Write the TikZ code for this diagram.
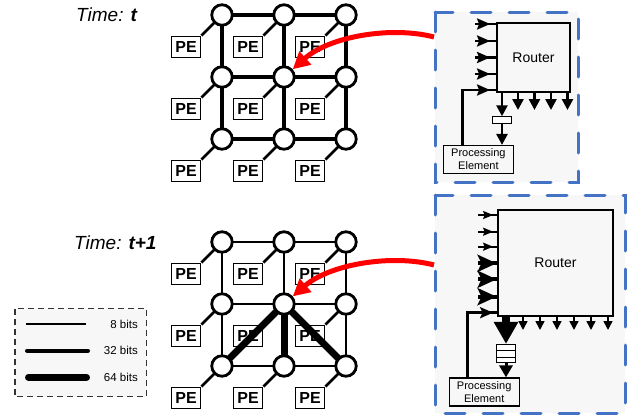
\documentclass[tikz,border=0pt]{standalone}
\usepackage{fontspec}
\setmainfont{Liberation Sans}
\usetikzlibrary{arrows.meta,decorations.markings,calc}
\definecolor{dashblue}{RGB}{68,114,196}
\definecolor{panelfill}{RGB}{247,247,247}
\definecolor{linkred}{RGB}{255,0,0}

\tikzset{
  routerdot/.style={circle,draw,line width=2.8pt,fill=white,minimum size=20.5pt,inner sep=0pt},
  pebox/.style={draw,line width=1.9pt,fill=white,minimum width=29pt,minimum height=21pt,inner sep=0pt,
    font=\fontsize{16}{16}\selectfont\bfseries},
  pelink/.style={line width=2.8pt},
  bits8/.style={line width=1.7pt},
  bits32/.style={line width=4pt},
  bits64/.style={line width=7pt},
  hotlink/.style={draw=linkred,line width=5pt,-{Triangle[length=17pt,width=17pt]}},
  timelabel/.style={anchor=west,inner sep=0pt,font=\fontsize{19}{19}\selectfont\itshape},
  panel/.style={draw=dashblue,line width=3pt,line cap=round,dash pattern=on 20pt off 18pt,fill=panelfill},
  routerbox/.style={draw,line width=1.8pt,fill=panelfill,inner sep=0pt,font=\fontsize{14}{14}\selectfont},
  procbox/.style={draw,line width=1.2pt,fill=panelfill,align=center,inner sep=0pt,font=\fontsize{11}{13}\selectfont},
  bufbox/.style={draw,line width=1pt,fill=white,inner sep=0pt},
  % input port: a line into the router with a barbed head placed near its end
  headat/.style n args={5}{line width=#4,postaction={decorate},
    decoration={markings,mark=at position #1 with {\arrow{Stealth[length=#2,width=#3,inset=#5]}}}},
  legendtext/.style={anchor=east,inner sep=0pt,font=\fontsize{11.5}{11.5}\selectfont},
}

\begin{document}
\begin{tikzpicture}[x=1pt,y=-1pt]
\useasboundingbox (0,0) rectangle (630,415);

% ---------------- mesh at time t ----------------
\node[timelabel] (timeA) at (76,15) {Time: \textbf{t}};
\foreach \c/\x in {1/222,2/284,3/346}
  \foreach \r/\y in {1/15,2/77,3/139} {
    \coordinate (a\c\r) at (\x,\y);
    \coordinate (b\c\r) at (\x,\y+227);
  }
\foreach \k in {1,2,3} {
  \draw[bits32] (a1\k) -- (a2\k) -- (a3\k);
  \draw[bits32] (a\k1) -- (a\k2) -- (a\k3);
}
\foreach \c in {1,2,3}
  \foreach \r in {1,2,3} {
    \node[pebox] (pa\c\r) at ($(a\c\r)+(-36,32)$) {PE};
    \draw[pelink] (a\c\r) -- (pa\c\r.north east);
  }
\foreach \c in {1,2,3}
  \foreach \r in {1,2,3}
    \node[routerdot] (A\c\r) at (a\c\r) {};

% ---------------- mesh at time t+1 ----------------
\node[timelabel] (timeB) at (74,243) {Time: \textbf{t+1}};
\foreach \k in {1,2,3} {
  \draw[bits8] (b1\k) -- (b2\k) -- (b3\k);
  \draw[bits8] (b\k1) -- (b\k2) -- (b\k3);
}
\foreach \c in {1,2,3}
  \foreach \r in {1,2,3} {
    \node[pebox] (pb\c\r) at ($(b\c\r)+(-36,32)$) {PE};
    \draw[pelink] (b\c\r) -- (pb\c\r.north east);
  }
\draw[bits64] (b22) -- (b13);
\draw[bits64] (b22) -- (b23);
\draw[bits64] (b22) -- (b33);
\foreach \c in {1,2,3}
  \foreach \r in {1,2,3}
    \node[routerdot] (B\c\r) at (b\c\r) {};

% ---------------- legend ----------------
\draw[draw=black!80,line width=1.2pt,dash pattern=on 6pt off 4pt,fill=panelfill]
  (15,308.5) rectangle (146.5,396.5);
\draw[bits8] (26,324) -- (86,324);
\draw[bits32,line cap=round] (27,350.7) -- (88,350.7);
\draw[bits64,line cap=round] (28.5,377.3) -- (86.5,377.3);
\node[legendtext] (l8)  at (138,324)   {8 bits};
\node[legendtext] (l32) at (138,350.7) {32 bits};
\node[legendtext] (l64) at (138,377.3) {64 bits};

% ---------------- router detail, time t ----------------
\draw[panel] (435,12) rectangle (578,182);
\node[routerbox,minimum width=73pt,minimum height=69pt] (rtA) at (533.5,57.5) {Router};
\node[procbox,minimum width=70pt,minimum height=28pt] (peA) at (478.4,159.5) {Processing\\Element};
\node[bufbox,minimum width=19pt,minimum height=6.5pt] (bfA) at (502,120) {};
\foreach \k/\y in {1/24,2/41,3/57.5,4/74} {
  \coordinate (inA\k) at (475,\y);
  \draw[headat={-6pt}{13pt}{11pt}{2.6pt}{2pt}] (inA\k) -- (inA\k -| rtA.west);
}
\coordinate (inA5) at (475,90);
\coordinate (fbA) at ($(peA.north west)+(19.5,0)$);
\draw[headat={-6pt}{13pt}{11pt}{2.6pt}{2pt}] (fbA) |- (inA5 -| rtA.west);
\foreach \k/\x in {1/518,2/534.5,3/551,4/567.5} {
  \coordinate (outA\k) at (\x,110);
  \draw[line width=2.6pt,-{Triangle[length=11pt,width=11pt]}] (outA\k |- rtA.south) -- (outA\k);
}
\draw[line width=2.6pt,-{Triangle[length=11pt,width=11pt]}] (bfA.north |- rtA.south) -- (bfA.north);
\draw[line width=2.6pt,-{Triangle[length=11pt,width=11pt]}] (bfA.south) -- (bfA.south |- peA.north);

% ---------------- router detail, time t+1 ----------------
\draw[panel] (435,195) rectangle (625,413);
\node[routerbox,minimum width=115pt,minimum height=106pt] (rtB) at (555.5,263) {Router};
\node[procbox,minimum width=70pt,minimum height=28pt] (peB) at (484.2,392) {Processing\\Element};
\node[bufbox,minimum width=19.5pt,minimum height=18.5pt] (bfB) at (506,353.7) {};
\draw[line width=0.9pt] ($(bfB.north west)!1/3!(bfB.south west)$) -- ($(bfB.north east)!1/3!(bfB.south east)$);
\draw[line width=0.9pt] ($(bfB.north west)!2/3!(bfB.south west)$) -- ($(bfB.north east)!2/3!(bfB.south east)$);
\foreach \k/\y in {1/215,2/231.7,3/246.7} {
  \coordinate (inB\k) at (478,\y);
  \draw[headat={-4pt}{10pt}{8pt}{1.8pt}{1.5pt}] (inB\k) -- (inB\k -| rtB.west);
}
\foreach \k/\y in {4/263.3,5/279.3,6/296.7} {
  \coordinate (inB\k) at (478,\y);
  \draw[headat={-0.5pt}{19pt}{17pt}{4pt}{4pt}] (inB\k) -- (inB\k -| rtB.west);
}
\coordinate (inB7) at (478,312.7);
\coordinate (fbB) at ($(peB.north west)+(19,0)$);
\draw[headat={-4pt}{13pt}{11pt}{3pt}{2.5pt}] (fbB) |- (inB7 -| rtB.west);
\foreach \k/\x in {1/523,2/540,3/557,4/574,5/591,6/608} {
  \coordinate (outB\k) at (\x,330);
  \draw[line width=1.6pt,-{Triangle[length=9pt,width=9pt]}] (outB\k |- rtB.south) -- (outB\k);
}
\draw[line width=8pt,-{Triangle[length=22pt,width=23pt]}] (bfB.north |- rtB.south) -- (bfB.north);
\draw[line width=3pt,-{Triangle[length=12pt,width=13pt]}] (bfB.south) -- (bfB.south |- peB.north);

% ---------------- pointers from mesh to router detail ----------------
\coordinate (srcA) at (434,37);
\coordinate (srcB) at (434,265);
\draw[hotlink] (srcA) .. controls (392,26) and (330,36) .. (A22);
\draw[hotlink] (srcB) .. controls (392,254) and (330,264) .. (B22);
\end{tikzpicture}
\end{document}
